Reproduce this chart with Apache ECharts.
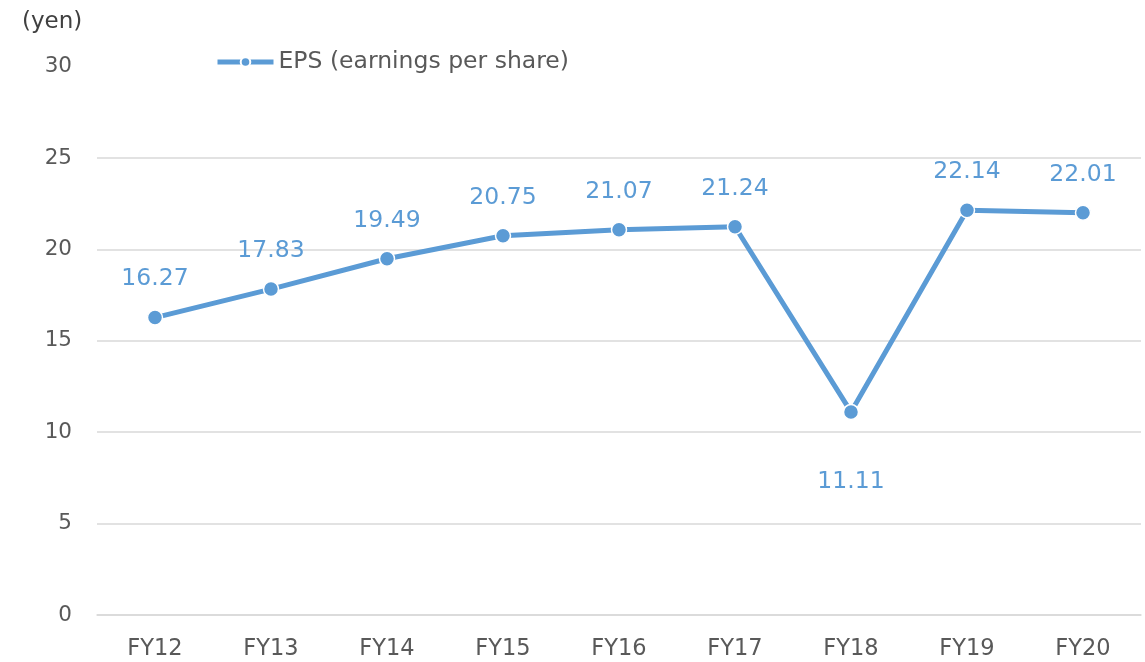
<!DOCTYPE html>
<html>
<head>
<meta charset="utf-8">
<script src="https://cdn.jsdelivr.net/npm/echarts@6/dist/echarts.min.js"></script>
<style>
  html, body { margin: 0; padding: 0; background: #fff; }
  #chart { width: 1145px; height: 662px; }
</style>
</head>
<body>
<div id="chart"></div>
<script>
const years = ['FY12', 'FY13', 'FY14', 'FY15', 'FY16', 'FY17', 'FY18', 'FY19', 'FY20'];
const eps = [16.27, 17.83, 19.49, 20.75, 21.07, 21.24, 11.11, 22.14, 22.01];
const yTicks = { min: 0, max: 30, interval: 5 };

const blue = '#5B9BD5';
const font = 'DejaVu Sans';

// FY18 dip gets its label below the point
const epsData = eps.map((v, i) => {
  if (i === 6) {
    return { value: v, label: { position: 'bottom', distance: 50 } };
  }
  return v;
});

const chart = echarts.init(document.getElementById('chart'));
chart.setOption({
  animation: false,
  title: {
    text: '(yen)',
    left: 17,
    top: 6,
    textStyle: { fontFamily: font, fontSize: 23, fontWeight: 'normal', color: '#404040' }
  },
  legend: {
    left: 210,
    top: 45,
    itemWidth: 56,
    itemHeight: 12,
    itemGap: 10,
    lineStyle: { width: 5 },
    textStyle: { fontFamily: font, fontSize: 23.5, color: '#595959' },
    data: ['EPS (earnings per share)']
  },
  grid: { left: 97, right: 4, top: 66.6, bottom: 47 },
  xAxis: {
    type: 'category',
    data: years,
    axisLine: { lineStyle: { color: '#d9d9d9', width: 1.5 } },
    axisTick: { show: false },
    axisLabel: { fontFamily: font, fontSize: 22.5, color: '#595959', margin: 23 }
  },
  yAxis: {
    type: 'value',
    min: yTicks.min,
    max: yTicks.max,
    interval: yTicks.interval,
    axisLine: { show: false },
    axisTick: { show: false },
    axisLabel: { fontFamily: font, fontSize: 21.5, color: '#595959', margin: 25 },
    splitLine: { showMaxLine: false, lineStyle: { color: '#d9d9d9', width: 1.5 } }
  },
  series: [{
    name: 'EPS (earnings per share)',
    type: 'line',
    data: epsData,
    symbol: 'circle',
    symbolSize: 15,
    itemStyle: { color: blue, borderColor: '#fff', borderWidth: 1.5 },
    lineStyle: { color: blue, width: 5 },
    label: {
      show: true,
      position: 'top',
      distance: 18,
      fontFamily: font,
      fontSize: 23.5,
      color: blue
    }
  }]
});
</script>
</body>
</html>
